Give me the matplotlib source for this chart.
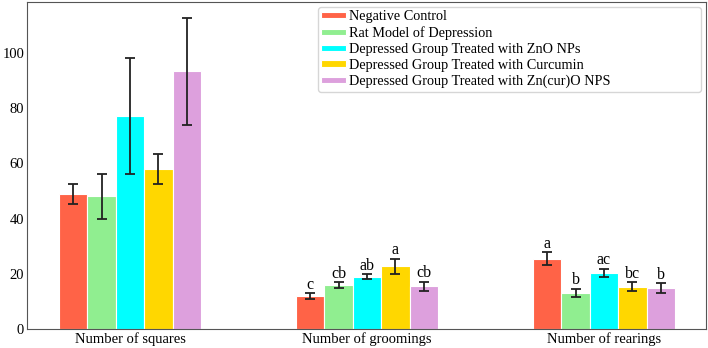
import matplotlib
matplotlib.use("Agg")
import matplotlib.pyplot as plt
import numpy as np

plt.rcParams['font.family'] = ['Liberation Serif', 'DejaVu Serif']

categories = ["Number of squares", "Number of groomings", "Number of rearings"]
groups = ["Negative Control", "Rat Model of Depression",
          "Depressed Group Treated with ZnO NPs",
          "Depressed Group Treated with Curcumin",
          "Depressed Group Treated with Zn(cur)O NPS"]
colors = ["tomato", "lightgreen", "cyan", "gold", "plum"]

means = [
    [49, 12, 25.5],     # negative control
    [48, 16, 13],       # rat model
    [77, 19, 20.3],     # ZnO
    [58, 22.7, 15.3],   # curcumin
    [93.3, 15.5, 14.7], # Zn(cur)O
]
errs = [
    [3.7, 1.0, 2.3],
    [8.0, 1.0, 1.5],
    [21.0, 0.9, 1.6],
    [5.5, 2.8, 1.7],
    [19.5, 1.6, 1.8],
]
letters = [
    ["", "c", "a"],
    ["", "cb", "b"],
    ["", "ab", "ac"],
    ["", "a", "bc"],
    ["", "cb", "b"],
]

fig = plt.figure(figsize=(7.08, 3.48), dpi=100)
ax = fig.add_axes([0.038, 0.0546, 0.959, 0.94])

x = np.arange(len(categories))
w = 0.12
for i in range(len(groups)):
    pos = x + (i - 2) * w
    ax.bar(pos, means[i], width=w, color=colors[i], edgecolor='white', linewidth=0.8,
           label=groups[i])
    ax.errorbar(pos, means[i], yerr=errs[i], fmt='none', ecolor='#222222',
                elinewidth=1.3, capsize=3.5, capthick=1.3)
    for j in range(len(categories)):
        if letters[i][j]:
            ax.text(pos[j], means[i][j] + errs[i][j] + 0.2, letters[i][j],
                    ha='center', va='bottom', fontsize=11.5)

ax.set_xticks(x)
ax.set_xticklabels(categories, fontsize=10.3)
ax.set_yticks([0, 20, 40, 60, 80, 100])
ax.tick_params(axis='both', length=0, labelsize=10.5, pad=2)
ax.set_xlim(-0.435, 2.43)
ax.set_ylim(0, 118.5)
for s in ax.spines.values():
    s.set_color('#555555')

leg = ax.legend(loc='upper left', bbox_to_anchor=(0.4286, 0.731, 0.564, 0.254),
                mode='expand', fontsize=10.3,
                handlelength=1.7, handleheight=0.3, handletextpad=0.2,
                labelspacing=0.2, borderpad=0.25, borderaxespad=0)

fig.savefig("out.png", dpi=100)
